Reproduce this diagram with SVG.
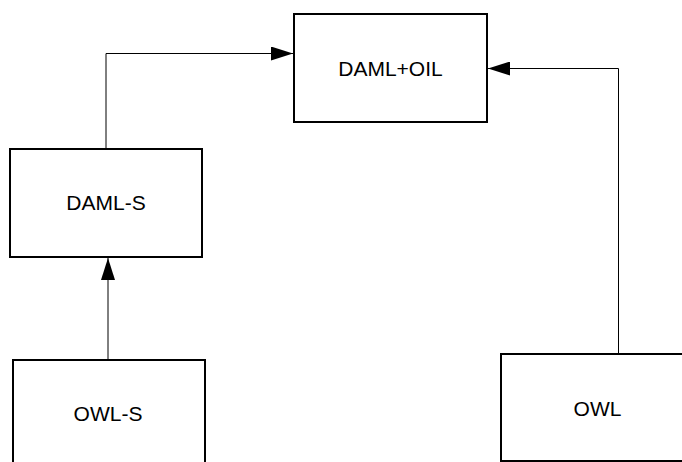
<svg xmlns="http://www.w3.org/2000/svg" width="682" height="462" viewBox="0 0 682 462">
  <style>
    .box { fill: #ffffff; stroke: #000000; stroke-width: 2; }
    .label { font-family: "Liberation Sans", Arial, sans-serif; font-size: 21px; fill: #000000; text-anchor: middle; }
    .edge { fill: none; stroke: #000000; stroke-width: 1; }
  </style>
  <defs>
    <marker id="arrow" viewBox="0 0 22 14" refX="22" refY="7" markerWidth="22" markerHeight="14" markerUnits="userSpaceOnUse" orient="auto">
      <path d="M0,0 L22,7 L0,14 Z" fill="#000000"/>
    </marker>
  </defs>
  <rect width="682" height="462" fill="#ffffff"/>

  <g id="connectors">
    <polyline class="edge" points="106,149 106,53.5 293,53.5" marker-end="url(#arrow)"/>
    <polyline class="edge" points="618.5,354 618.5,68.5 488,68.5" marker-end="url(#arrow)"/>
    <polyline class="edge" points="108,360 108,258" marker-end="url(#arrow)"/>
  </g>

  <g id="node-damloil">
    <rect class="box" x="294" y="14" width="193" height="108"/>
    <text class="label" x="390.5" y="75.5">DAML+OIL</text>
  </g>

  <g id="node-damls">
    <rect class="box" x="10" y="149" width="192" height="108"/>
    <text class="label" x="106" y="209.5">DAML-S</text>
  </g>

  <g id="node-owls">
    <rect class="box" x="13" y="360" width="192" height="108"/>
    <text class="label" x="108" y="420.5">OWL-S</text>
  </g>

  <g id="node-owl">
    <rect class="box" x="501" y="354" width="193" height="107"/>
    <text class="label" x="597.5" y="415.5">OWL</text>
  </g>
</svg>
